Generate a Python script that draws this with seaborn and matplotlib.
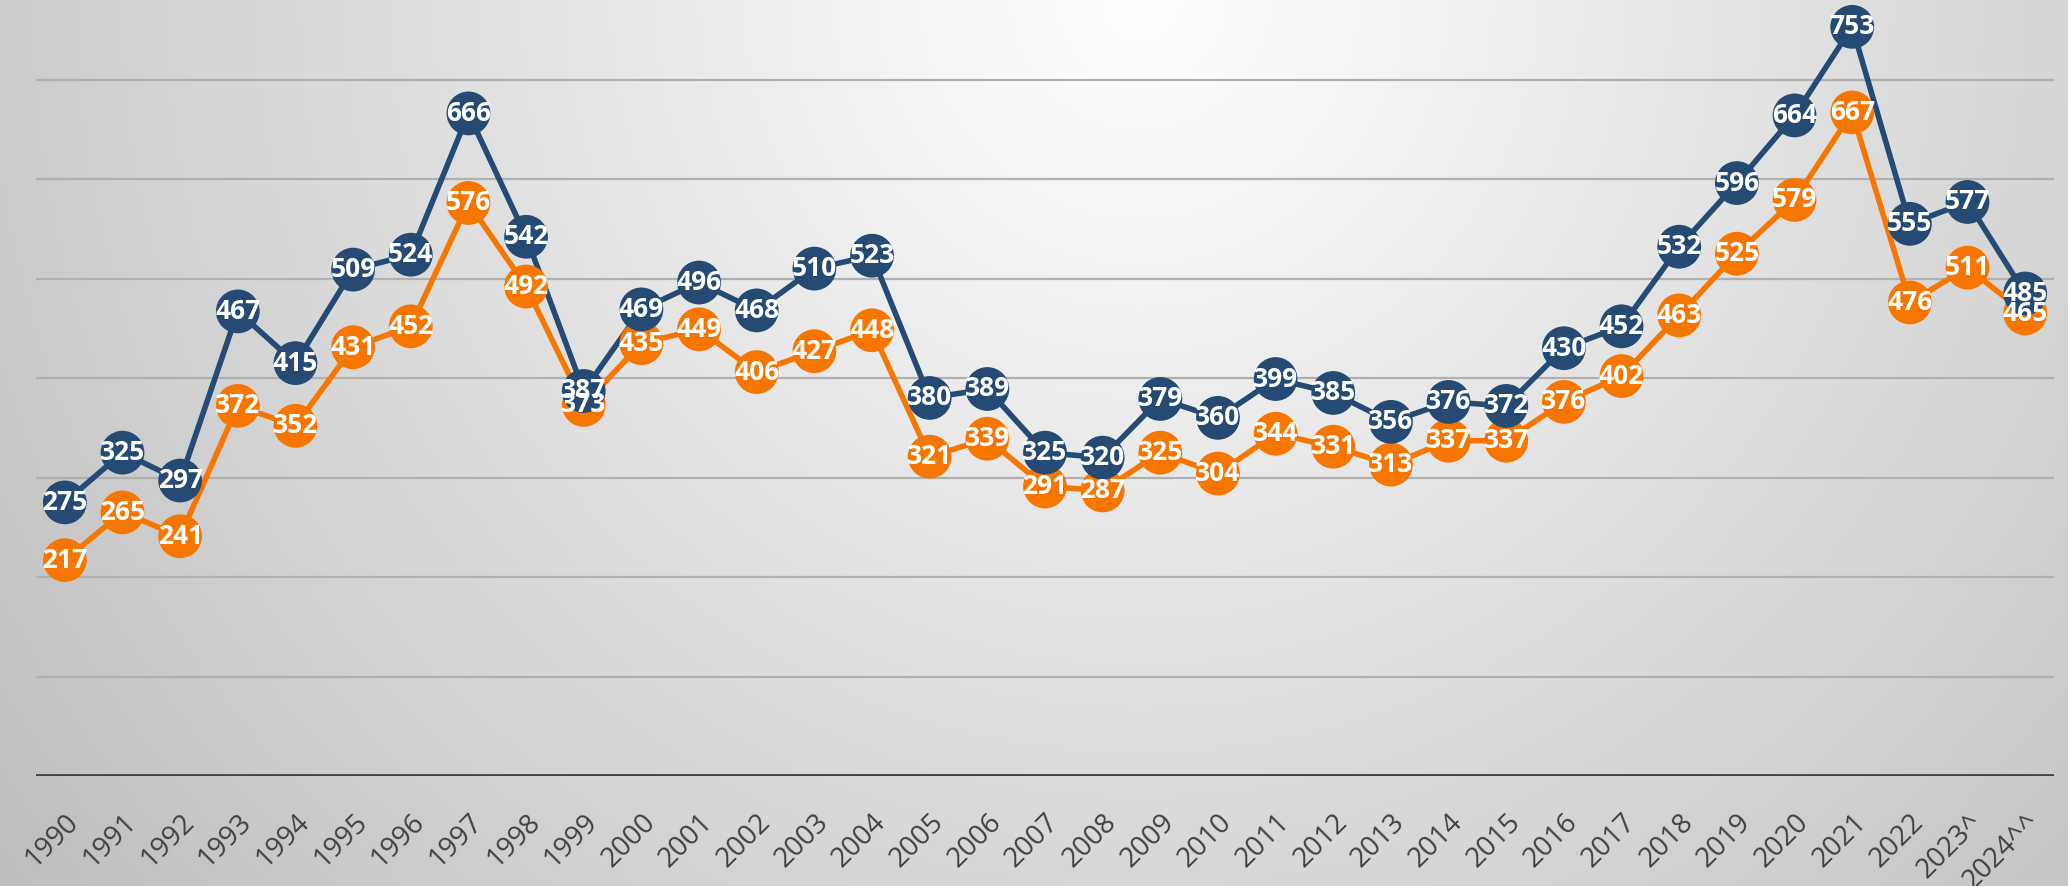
import numpy as np
import matplotlib
matplotlib.use("Agg")
import matplotlib.pyplot as plt
import seaborn as sns
import pandas as pd

years = ["1990", "1991", "1992", "1993", "1994", "1995", "1996", "1997", "1998", "1999",
         "2000", "2001", "2002", "2003", "2004", "2005", "2006", "2007", "2008", "2009",
         "2010", "2011", "2012", "2013", "2014", "2015", "2016", "2017", "2018", "2019",
         "2020", "2021", "2022", "2023^", "2024^^"]
series_blue = [275, 325, 297, 467, 415, 509, 524, 666, 542, 387,
               469, 496, 468, 510, 523, 380, 389, 325, 320, 379,
               360, 399, 385, 356, 376, 372, 430, 452, 532, 596,
               664, 753, 555, 577, 485]
series_orange = [217, 265, 241, 372, 352, 431, 452, 576, 492, 373,
                 435, 449, 406, 427, 448, 321, 339, 291, 287, 325,
                 304, 344, 331, 313, 337, 337, 376, 402, 463, 525,
                 579, 667, 476, 511, 465]
y_ticks = [0, 100, 200, 300, 400, 500, 600, 700]

BLUE = "#254a73"
ORANGE = "#f77600"

sns.set_theme(style="white")
plt.rcParams['font.family'] = ['Open Sans', 'DejaVu Sans']

W, H = 2068, 886
fig = plt.figure(figsize=(W / 100, H / 100), dpi=100)

# radial gradient background
bg = fig.add_axes([0, 0, 1, 1])
yy, xx = np.mgrid[0:H, 0:W]
d = np.sqrt((xx - 1140.0) ** 2 + (yy - 0.0) ** 2)
v = np.clip(255 - 63 * (d / 1400.0), 180, 255) / 255.0
bg.imshow(np.dstack([v, v, v]), aspect='auto', extent=[0, 1, 0, 1])
bg.set_axis_off()

ax = fig.add_axes([36 / W, 1 - 776 / H, (2054 - 36) / W, 776 / H])
ax.patch.set_alpha(0)

df = pd.DataFrame({"x": np.arange(len(years)), "blue": series_blue, "orange": series_orange})

sns.lineplot(data=df, x="x", y="orange", ax=ax, color=ORANGE, linewidth=4, zorder=2)
sns.lineplot(data=df, x="x", y="blue", ax=ax, color=BLUE, linewidth=4, zorder=2)
sns.scatterplot(data=df, x="x", y="orange", ax=ax, color=ORANGE, s=31.5 ** 2,
                edgecolor='none', zorder=3)
sns.scatterplot(data=df, x="x", y="blue", ax=ax, color=BLUE, s=31.5 ** 2,
                edgecolor='none', zorder=4)

for i in range(len(years)):
    for val in (series_blue[i], series_orange[i]):
        ax.text(i, val, str(val), ha='center', va='center', color='white',
                fontsize=19, fontweight='bold', zorder=5,
                family=['Open Sans', 'DejaVu Sans'])

ax.set_xlim(-0.5, len(years) - 0.5)
ax.set_ylim(0, 780)
ax.set_yticks(y_ticks)
ax.set_yticklabels([])
ax.tick_params(axis='y', length=0)
for yv in y_ticks[1:]:
    ax.axhline(yv, color='#b0b0b0', linewidth=1.6, zorder=1)
ax.axhline(0, color='#404040', linewidth=3.4, zorder=1)

ax.set_xticks(np.arange(len(years)))
ax.set_xticklabels(years, rotation=45, ha='right', rotation_mode='anchor',
                   fontsize=20, color='#404040')
ax.tick_params(axis='x', length=0, pad=23)
ax.set_xlabel("")
ax.set_ylabel("")
for s in ax.spines.values():
    s.set_visible(False)

fig.savefig("out.png", dpi=100)
